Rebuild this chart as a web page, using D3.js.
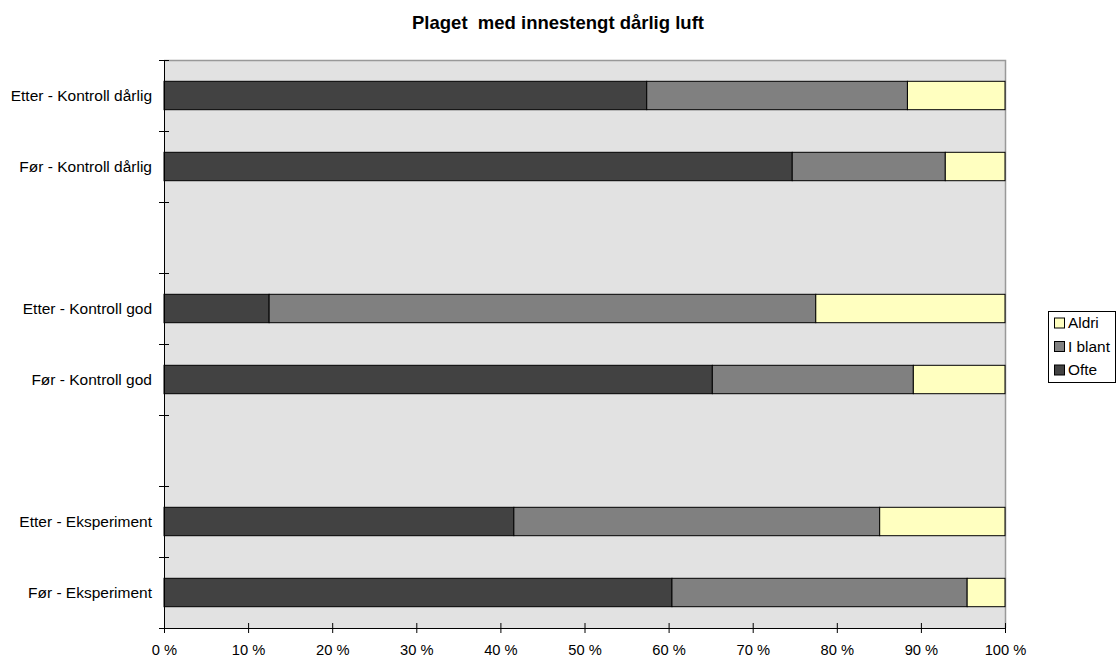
<!DOCTYPE html>
<html>
<head>
<meta charset="utf-8">
<script src="https://cdn.jsdelivr.net/npm/d3@7"></script>
<style>
  body { margin: 0; background: #fff; }
  svg { display: block; font-family: "Liberation Sans", Arial, sans-serif; }
</style>
</head>
<body>
<svg id="chart" width="1118" height="659"></svg>
<script>
// Category rows, top to bottom; blank entries are spacer rows between groups
const categories = [
  "Etter - Kontroll dårlig",
  "Før - Kontroll dårlig",
  "",
  "Etter - Kontroll god",
  "Før - Kontroll god",
  " ",
  "Etter - Eksperiment",
  "Før - Eksperiment"
];
const rowLabels = [
  "Etter - Kontroll dårlig",
  "Før - Kontroll dårlig",
  "Etter - Kontroll god",
  "Før - Kontroll god",
  "Etter - Eksperiment",
  "Før - Eksperiment"
];
// Percent shares per row
const ofte   = [57.4, 74.7, 12.5, 65.2, 41.6, 60.4];
const iBlant = [31.0, 18.2, 65.0, 23.9, 43.5, 35.1];
const aldri  = [11.6,  7.1, 22.5, 10.9, 14.9,  4.5];
const seriesNames = ["Ofte", "I blant", "Aldri"];
const seriesColors = ["#424242", "#808080", "#ffffc0"];
const xTicks = [0, 10, 20, 30, 40, 50, 60, 70, 80, 90, 100];
const title = "Plaget  med innestengt dårlig luft";

const svg = d3.select("#chart");
const plot = { left: 164, right: 1005, top: 60, bottom: 628 };

const x = d3.scaleLinear().domain([0, 100]).range([plot.left, plot.right]);
const y = d3.scaleBand().domain(categories).range([plot.top, plot.bottom])
  .paddingInner(0.6).paddingOuter(0.3);
const yBand = d3.scaleBand().domain(categories).range([plot.top, plot.bottom]);

// Plot background
svg.append("rect")
  .attr("x", plot.left).attr("y", plot.top)
  .attr("width", plot.right - plot.left).attr("height", plot.bottom - plot.top)
  .attr("fill", "#e2e2e2");
// Top and right frame
svg.append("path")
  .attr("d", `M${plot.left},${plot.top + 0.5}H${plot.right + 0.5}V${plot.bottom}`)
  .attr("fill", "none").attr("stroke", "#999").attr("stroke-width", 1.5);

// Stacked data
const rows = rowLabels.map((label, i) => ({ label, Ofte: ofte[i], "I blant": iBlant[i], Aldri: aldri[i] }));
const stack = d3.stack().keys(seriesNames)(rows);

svg.append("g").selectAll("g").data(stack).join("g")
  .attr("fill", (d, i) => seriesColors[i])
  .selectAll("rect").data(d => d).join("rect")
  .attr("x", d => x(d[0]))
  .attr("y", d => y(d.data.label))
  .attr("width", d => x(d[1]) - x(d[0]))
  .attr("height", y.bandwidth())
  .attr("stroke", "#000").attr("stroke-width", 1);

// Left axis: category boundaries as crossing ticks
const leftAxis = svg.append("g");
leftAxis.append("line")
  .attr("x1", plot.left + 0.5).attr("x2", plot.left + 0.5)
  .attr("y1", plot.top).attr("y2", plot.bottom)
  .attr("stroke", "#000");
const boundaries = categories.map(c => yBand(c)).concat([plot.bottom]);
leftAxis.selectAll("line.tick").data(boundaries).join("line")
  .attr("class", "tick")
  .attr("x1", plot.left - 5).attr("x2", plot.left + 5)
  .attr("y1", d => Math.round(d) + 0.5).attr("y2", d => Math.round(d) + 0.5)
  .attr("stroke", "#000");
leftAxis.selectAll("text").data(rowLabels).join("text")
  .attr("x", 152)
  .attr("y", d => yBand(d) + yBand.bandwidth() / 2)
  .attr("dy", "0.35em")
  .attr("text-anchor", "end")
  .attr("font-size", 15.5)
  .attr("fill", "#000")
  .text(d => d);

// Bottom axis
const xAxis = d3.axisBottom(x).tickValues(xTicks).tickFormat(d => d + " %")
  .tickSizeInner(5).tickSizeOuter(0);
const gx = svg.append("g").attr("transform", `translate(0,${plot.bottom})`).call(xAxis);
gx.select(".domain").attr("stroke", "#000");
gx.selectAll(".tick line").attr("y1", -5).attr("stroke", "#000");
gx.selectAll(".tick text")
  .attr("y", 27).attr("dy", null)
  .attr("font-size", 14.7).attr("fill", "#000")
  .attr("font-family", "Liberation Sans, Arial, sans-serif");

// Title
svg.append("text")
  .attr("x", 558).attr("y", 29)
  .attr("text-anchor", "middle")
  .attr("font-size", 18.5).attr("font-weight", "bold")
  .style("white-space", "pre")
  .text(title);

// Legend (Aldri on top)
const legend = svg.append("g").attr("transform", "translate(1048,311)");
legend.append("rect")
  .attr("x", 0.5).attr("y", 0.5).attr("width", 67).attr("height", 71)
  .attr("fill", "#fff").attr("stroke", "#000");
const legendOrder = [2, 1, 0];
legend.selectAll("g.item").data(legendOrder).join("g")
  .attr("class", "item")
  .attr("transform", (d, i) => `translate(6,${11.5 + i * 23.5})`)
  .each(function(d) {
    const g = d3.select(this);
    g.append("rect").attr("x", 0.5).attr("y", -4.5).attr("width", 10).attr("height", 10)
      .attr("fill", seriesColors[d]).attr("stroke", "#000");
    g.append("text").attr("x", 14).attr("y", 0.5).attr("dy", "0.35em")
      .attr("font-size", 15.4).text(seriesNames[d]);
  });
</script>
</body>
</html>
